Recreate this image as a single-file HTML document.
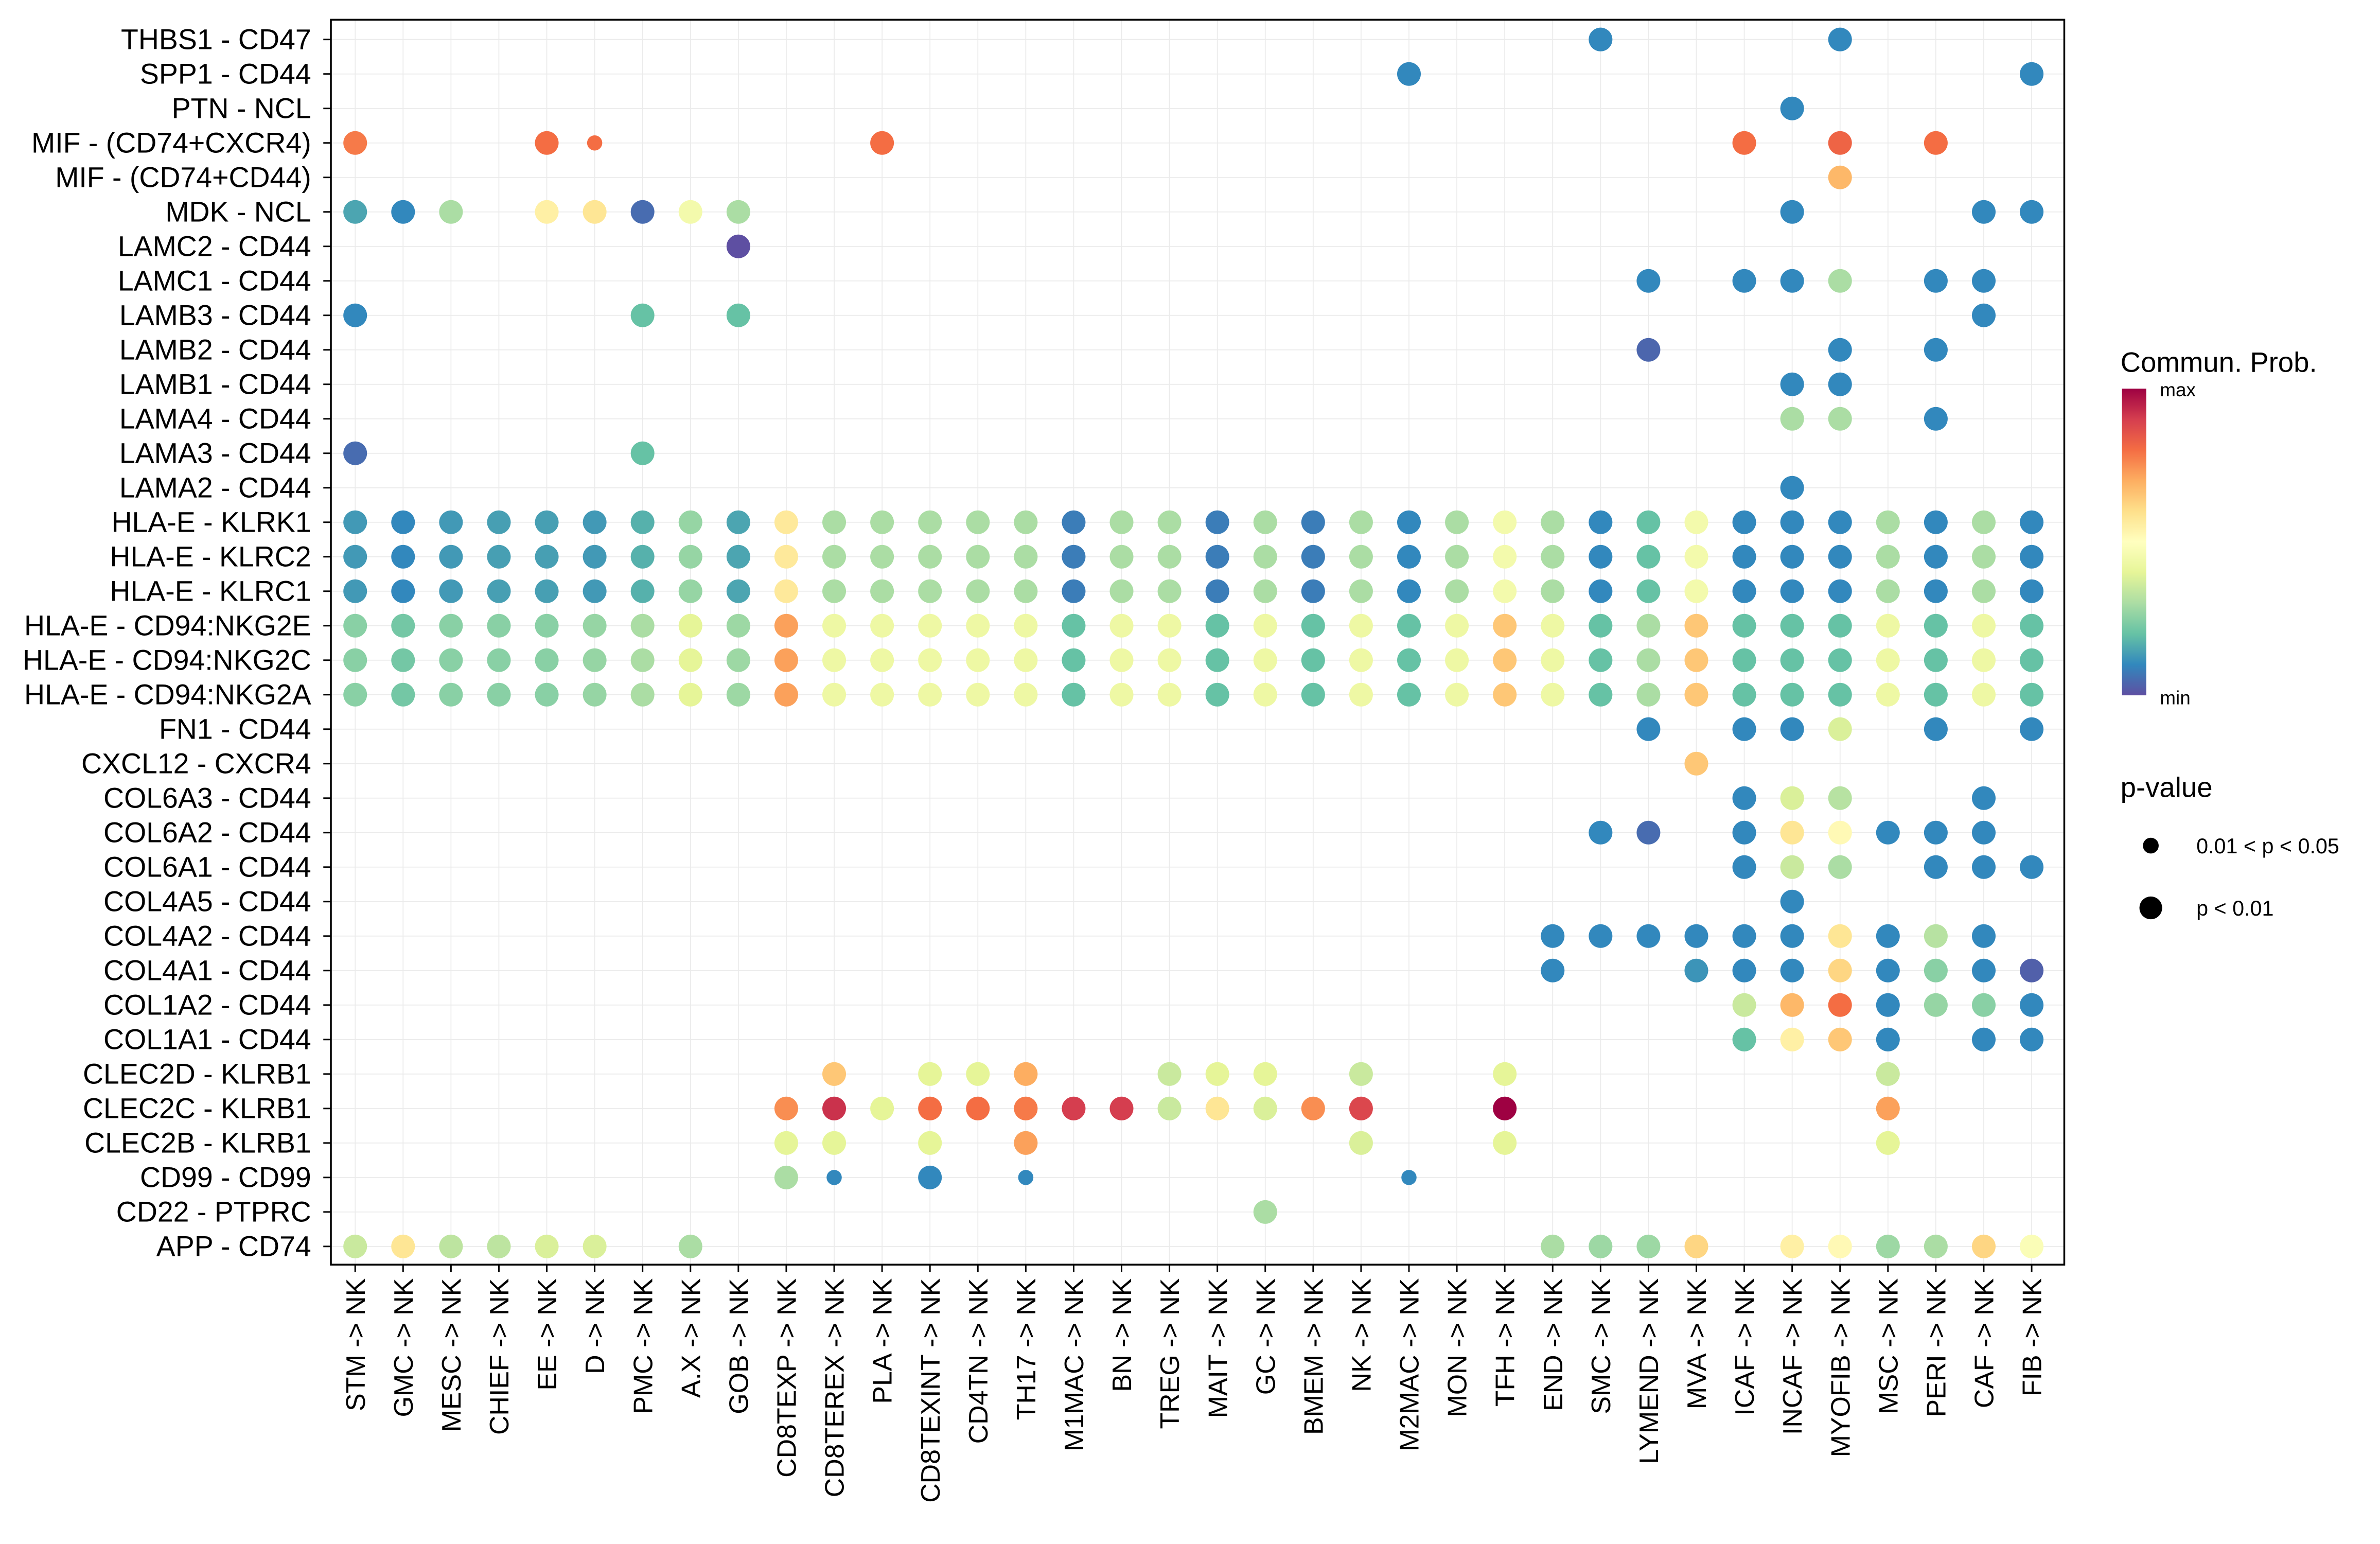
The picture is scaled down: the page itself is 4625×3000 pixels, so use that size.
<!DOCTYPE html>
<html><head><meta charset="utf-8"><style>
html,body{margin:0;padding:0;background:#fff}
svg{display:block;font-family:"Liberation Sans",Arial,sans-serif}
</style></head><body>
<svg id="chart" width="4625" height="3000" viewBox="0 0 1568 1017" preserveAspectRatio="none" xmlns="http://www.w3.org/2000/svg">
<defs>
<linearGradient id="cbar" x1="0" y1="1" x2="0" y2="0">
<stop offset="0" stop-color="#5E4FA2"/><stop offset="0.1" stop-color="#3288BD"/><stop offset="0.2" stop-color="#66C2A5"/><stop offset="0.3" stop-color="#ABDDA4"/><stop offset="0.4" stop-color="#E6F598"/><stop offset="0.5" stop-color="#FFFFBF"/><stop offset="0.6" stop-color="#FEE08B"/><stop offset="0.7" stop-color="#FDAE61"/><stop offset="0.8" stop-color="#F46D43"/><stop offset="0.9" stop-color="#D53E4F"/><stop offset="1" stop-color="#9E0142"/>
</linearGradient>
</defs>
<g id="grid"></g>
<g id="dots"></g>
<rect x="218" y="13" width="1142" height="820" fill="none" stroke="#000" stroke-width="1.2"/>
<g id="ticks"></g>
<g id="ylab"></g>
<g id="xlab"></g>
<g>
<text x="1397" y="245" font-size="18.5">Commun. Prob.</text>
<rect x="1398" y="256" width="16" height="202" fill="url(#cbar)"/>
<text x="1423" y="261" font-size="12.5">max</text>
<text x="1423" y="464" font-size="12.5">min</text>
</g>
<g>
<text x="1397" y="525" font-size="18.5">p-value</text>
<circle cx="1417" cy="557" r="5.2" fill="#000"/>
<text x="1447" y="562" font-size="14">0.01 &lt; p &lt; 0.05</text>
<circle cx="1417" cy="598" r="7.5" fill="#000"/>
<text x="1447" y="603" font-size="14">p &lt; 0.01</text>
</g>
</svg>
<script>
const columns=["STM","GMC","MESC","CHIEF","EE","D","PMC","A.X","GOB","CD8TEXP","CD8TEREX","PLA","CD8TEXINT","CD4TN","TH17","M1MAC","BN","TREG","MAIT","GC","BMEM","NK","M2MAC","MON","TFH","END","SMC","LYMEND","MVA","ICAF","INCAF","MYOFIB","MSC","PERI","CAF","FIB"];
const rows=["THBS1 - CD47","SPP1 - CD44","PTN - NCL","MIF - (CD74+CXCR4)","MIF - (CD74+CD44)","MDK - NCL","LAMC2 - CD44","LAMC1 - CD44","LAMB3 - CD44","LAMB2 - CD44","LAMB1 - CD44","LAMA4 - CD44","LAMA3 - CD44","LAMA2 - CD44","HLA-E - KLRK1","HLA-E - KLRC2","HLA-E - KLRC1","HLA-E - CD94:NKG2E","HLA-E - CD94:NKG2C","HLA-E - CD94:NKG2A","FN1 - CD44","CXCL12 - CXCR4","COL6A3 - CD44","COL6A2 - CD44","COL6A1 - CD44","COL4A5 - CD44","COL4A2 - CD44","COL4A1 - CD44","COL1A2 - CD44","COL1A1 - CD44","CLEC2D - KLRB1","CLEC2C - KLRB1","CLEC2B - KLRB1","CD99 - CD99","CD22 - PTPRC","APP - CD74"];
// each entry: [column index, probability (0-1 scaled), significant p<0.01 ? 1 : 0]
const klrk=[[0,.13,1],[1,.1,1],[2,.13,1],[3,.14,1],[4,.14,1],[5,.13,1],[6,.17,1],[7,.27,1],[8,.15,1],[9,.57,1],[10,.3,1],[11,.3,1],[12,.3,1],[13,.3,1],[14,.3,1],[15,.08,1],[16,.3,1],[17,.3,1],[18,.08,1],[19,.3,1],[20,.08,1],[21,.3,1],[22,.1,1],[23,.3,1],[24,.45,1],[25,.3,1],[26,.1,1],[27,.2,1],[28,.45,1],[29,.1,1],[30,.1,1],[31,.1,1],[32,.3,1],[33,.1,1],[34,.3,1],[35,.1,1]];
const nkg2=[[0,.25,1],[1,.22,1],[2,.25,1],[3,.25,1],[4,.25,1],[5,.27,1],[6,.3,1],[7,.4,1],[8,.28,1],[9,.72,1],[10,.43,1],[11,.43,1],[12,.43,1],[13,.43,1],[14,.43,1],[15,.2,1],[16,.43,1],[17,.43,1],[18,.2,1],[19,.43,1],[20,.2,1],[21,.43,1],[22,.2,1],[23,.43,1],[24,.65,1],[25,.43,1],[26,.2,1],[27,.3,1],[28,.65,1],[29,.2,1],[30,.2,1],[31,.2,1],[32,.43,1],[33,.2,1],[34,.43,1],[35,.2,1]];
const values=[
[[26,.1,1],[31,.1,1]],
[[22,.1,1],[35,.1,1]],
[[30,.1,1]],
[[0,.78,1],[4,.8,1],[5,.8,0],[11,.8,1],[29,.8,1],[31,.82,1],[33,.8,1]],
[[31,.68,1]],
[[0,.15,1],[1,.1,1],[2,.3,1],[4,.55,1],[5,.58,1],[6,.05,1],[7,.45,1],[8,.3,1],[30,.1,1],[34,.1,1],[35,.1,1]],
[[8,0,1]],
[[27,.1,1],[29,.1,1],[30,.1,1],[31,.3,1],[33,.1,1],[34,.1,1]],
[[0,.1,1],[6,.2,1],[8,.2,1],[34,.1,1]],
[[27,.04,1],[31,.1,1],[33,.1,1]],
[[30,.1,1],[31,.1,1]],
[[30,.3,1],[31,.3,1],[33,.1,1]],
[[0,.05,1],[6,.2,1]],
[[30,.1,1]],
klrk,klrk,klrk,nkg2,nkg2,nkg2,
[[27,.1,1],[29,.1,1],[30,.1,1],[31,.38,1],[33,.1,1],[35,.1,1]],
[[28,.65,1]],
[[29,.1,1],[30,.38,1],[31,.32,1],[34,.1,1]],
[[26,.1,1],[27,.05,1],[29,.1,1],[30,.58,1],[31,.52,1],[32,.1,1],[33,.1,1],[34,.1,1]],
[[29,.1,1],[30,.35,1],[31,.3,1],[33,.1,1],[34,.1,1],[35,.1,1]],
[[30,.1,1]],
[[25,.1,1],[26,.1,1],[27,.1,1],[28,.1,1],[29,.1,1],[30,.1,1],[31,.58,1],[32,.1,1],[33,.32,1],[34,.1,1]],
[[25,.1,1],[28,.12,1],[29,.1,1],[30,.1,1],[31,.62,1],[32,.1,1],[33,.25,1],[34,.1,1],[35,.03,1]],
[[29,.35,1],[30,.68,1],[31,.8,1],[32,.1,1],[33,.27,1],[34,.25,1],[35,.1,1]],
[[29,.2,1],[30,.55,1],[31,.65,1],[32,.1,1],[34,.1,1],[35,.1,1]],
[[10,.65,1],[12,.4,1],[13,.4,1],[14,.7,1],[17,.35,1],[18,.4,1],[19,.4,1],[21,.35,1],[24,.4,1],[32,.35,1]],
[[9,.75,1],[10,.92,1],[11,.4,1],[12,.8,1],[13,.8,1],[14,.78,1],[15,.9,1],[16,.9,1],[17,.35,1],[18,.58,1],[19,.38,1],[20,.75,1],[21,.88,1],[24,1,1],[32,.72,1]],
[[9,.4,1],[10,.4,1],[12,.4,1],[14,.72,1],[21,.38,1],[24,.4,1],[32,.4,1]],
[[9,.3,1],[10,.1,0],[12,.1,1],[14,.1,0],[22,.1,0]],
[[19,.3,1]],
[[0,.35,1],[1,.58,1],[2,.33,1],[3,.33,1],[4,.38,1],[5,.38,1],[7,.3,1],[25,.3,1],[26,.28,1],[27,.28,1],[28,.62,1],[30,.55,1],[31,.52,1],[32,.28,1],[33,.3,1],[34,.62,1],[35,.48,1]]
];
const NS="http://www.w3.org/2000/svg";
const x=i=>234+i*(1338.5-234)/35;
const y=j=>26+j*(821-26)/35;
const stops=["#5E4FA2","#3288BD","#66C2A5","#ABDDA4","#E6F598","#FFFFBF","#FEE08B","#FDAE61","#F46D43","#D53E4F","#9E0142"];
function hex(h){return [1,3,5].map(k=>parseInt(h.substr(k,2),16));}
function color(v){v=Math.max(0,Math.min(1,v))*10;const i=Math.min(9,Math.floor(v)),t=v-i;const a=hex(stops[i]),b=hex(stops[i+1]);return "rgb("+a.map((c,k)=>Math.round(c+(b[k]-c)*t)).join(",")+")";}
function mk(tag,attrs,parent){const e=document.createElementNS(NS,tag);for(const k in attrs)e.setAttribute(k,attrs[k]);parent.appendChild(e);return e;}
const grid=document.getElementById('grid');
const ticks=document.getElementById('ticks');
columns.forEach((c,i)=>{const l=mk('line',{x1:x(i),x2:x(i),y1:13,y2:833,stroke:'#ebebeb','stroke-width':0.6},grid);


const t=mk('line',{x1:x(i),x2:x(i),y1:833,y2:838,stroke:'#000','stroke-width':1},ticks);

});
rows.forEach((r,j)=>{const l=mk('line',{x1:218,x2:1360,y1:y(j),y2:y(j),stroke:'#ebebeb','stroke-width':0.6},grid);


const t=mk('line',{x1:213,x2:218,y1:y(j),y2:y(j),stroke:'#000','stroke-width':1},ticks);

});
const dots=document.getElementById('dots');
values.forEach((row,j)=>row.forEach(d=>{const c=mk('circle',{cx:x(d[0]),cy:y(j),r:d[2]?7.8:5,fill:color(d[1])},dots);

}));
const yl=document.getElementById('ylab');
rows.forEach((r,j)=>{const t=mk('text',{x:205,y:y(j)+6.3,'text-anchor':'end','font-size':18.8},yl);t.textContent=r;

});
const xl=document.getElementById('xlab');
columns.forEach((c,i)=>{const t=mk('text',{x:0,y:0,'text-anchor':'end','font-size':17.6,transform:'translate('+(x(i)+6.3)+',842) rotate(-90)'},xl);t.textContent=c+" -> NK";

});
</script>
</body></html>
